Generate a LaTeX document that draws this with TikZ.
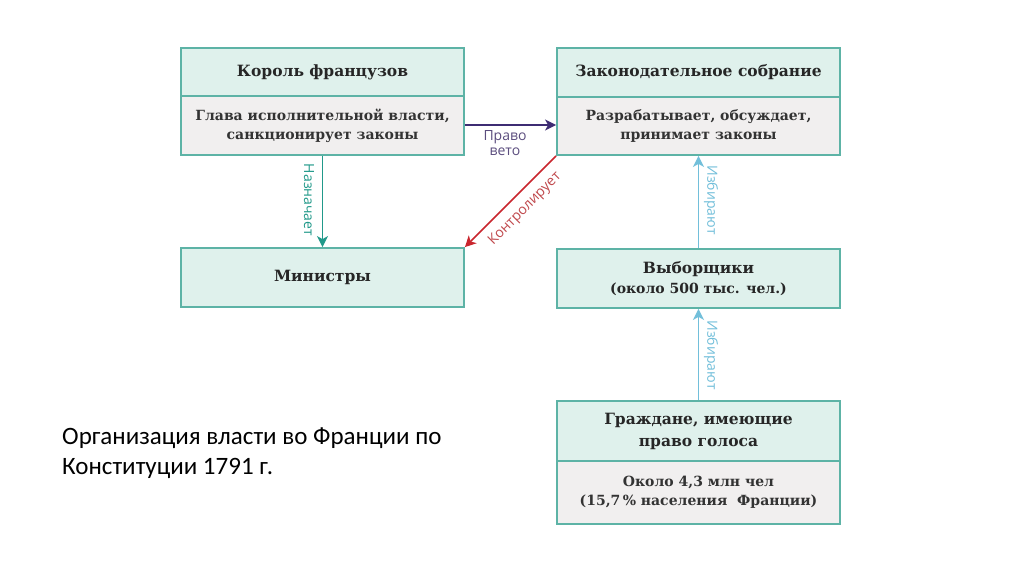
\documentclass[tikz,border=0pt]{standalone}
\usepackage{fontspec}
\setmainfont{DejaVu Serif}
\newfontfamily\lblfont{Open Sans}
\newfontfamily\capfont{Carlito}
\usetikzlibrary{arrows.meta}
\definecolor{boxline}{HTML}{5DB3A6}
\definecolor{boxtop}{HTML}{DFF1EC}
\definecolor{boxlow}{HTML}{F1EFEF}
\definecolor{vetoc}{HTML}{3E2C73}
\definecolor{vetotxt}{HTML}{5B4D7E}
\definecolor{ctrlc}{HTML}{C9262E}
\definecolor{ctrltxt}{HTML}{C0484C}
\definecolor{appc}{HTML}{21998A}
\definecolor{elc}{HTML}{72BFDA}
\tikzset{
  titlebox/.style={draw=boxline, line width=1.8pt, fill=boxtop, minimum width=283pt, align=center,
     font=\fontsize{15.5}{19}\selectfont\bfseries, text=black!85, inner sep=0pt},
  lowbox/.style={draw=boxline, line width=1.8pt, fill=boxlow, minimum width=283pt, align=center,
     font=\fontsize{14}{19}\selectfont\bfseries, text=black!80, inner sep=0pt},
  conn/.style={line width=1.6pt, -{Stealth[length=11pt,width=11pt,inset=3pt]}},
  lbl/.style={font=\lblfont\fontsize{14}{15}\selectfont, inner sep=1pt}
}
\begin{document}
\begin{tikzpicture}[x=1pt,y=-1pt]
\useasboundingbox[fill=white] (0,0) rectangle (1024,574);
% King
\node[titlebox, minimum height=48pt] (kingT) at (322.5,72) {Король французов};
\node[lowbox, minimum height=59pt] (kingB) at (322.5,125.5) {Глава исполнительной власти,\\санкционирует законы};
% Legislature
\node[titlebox, minimum height=49pt] (legT) at (698.5,72.5) {Законодательное собрание};
\node[lowbox, minimum height=58pt] (legB) at (698.5,126) {Разрабатывает, обсуждает,\\принимает законы};
% Ministers
\node[titlebox, minimum height=59pt] (min) at (322.5,277.5) {Министры};
% Electors
\node[titlebox, minimum height=59pt, font=\fontsize{15.5}{20}\selectfont\bfseries] (el) at (698.5,278.5) {Выборщики\\{\fontsize{14}{19}\selectfont (около 500 тыс. чел.)}};
% Citizens
\node[titlebox, minimum height=60pt, font=\fontsize{15.5}{22}\selectfont\bfseries] (citT) at (698.5,431) {Граждане, имеющие\\право голоса};
\node[lowbox, minimum height=63pt] (citB) at (698.5,492.5) {Около 4,3 млн чел\\(15,7\,\% населения~~Франции)};
% connectors
\draw[conn, vetoc] (kingB.east |- 0,125) -- (legB.west |- 0,125);
\node[lbl, text=vetotxt, align=center] (veto) at (505,143) {Право\\вето};
\draw[conn, ctrlc] (legB.south west) -- (min.north east);
\node[lbl, text=ctrltxt, rotate=45] (ctrl) at (525,209) {Контролирует};
\draw[conn, appc] (kingB.south) -- (min.north);
\node[lbl, text=appc, rotate=-90] (app) at (309,200) {Назначает};
\draw[conn, elc] (el.north) -- (legB.south);
\node[lbl, text=elc, rotate=-90] (izb1) at (711,200) {Избирают};
\draw[conn, elc] (citT.north) -- (el.south);
\node[lbl, text=elc, rotate=-90] (izb2) at (711,355) {Избирают};
% caption
\node[font=\capfont\fontsize{25}{30}\selectfont, anchor=north west, align=left, inner sep=0pt] (cap) at (62,428) {Организация власти во Франции по\\Конституции 1791 г.};
\end{tikzpicture}
\end{document}
